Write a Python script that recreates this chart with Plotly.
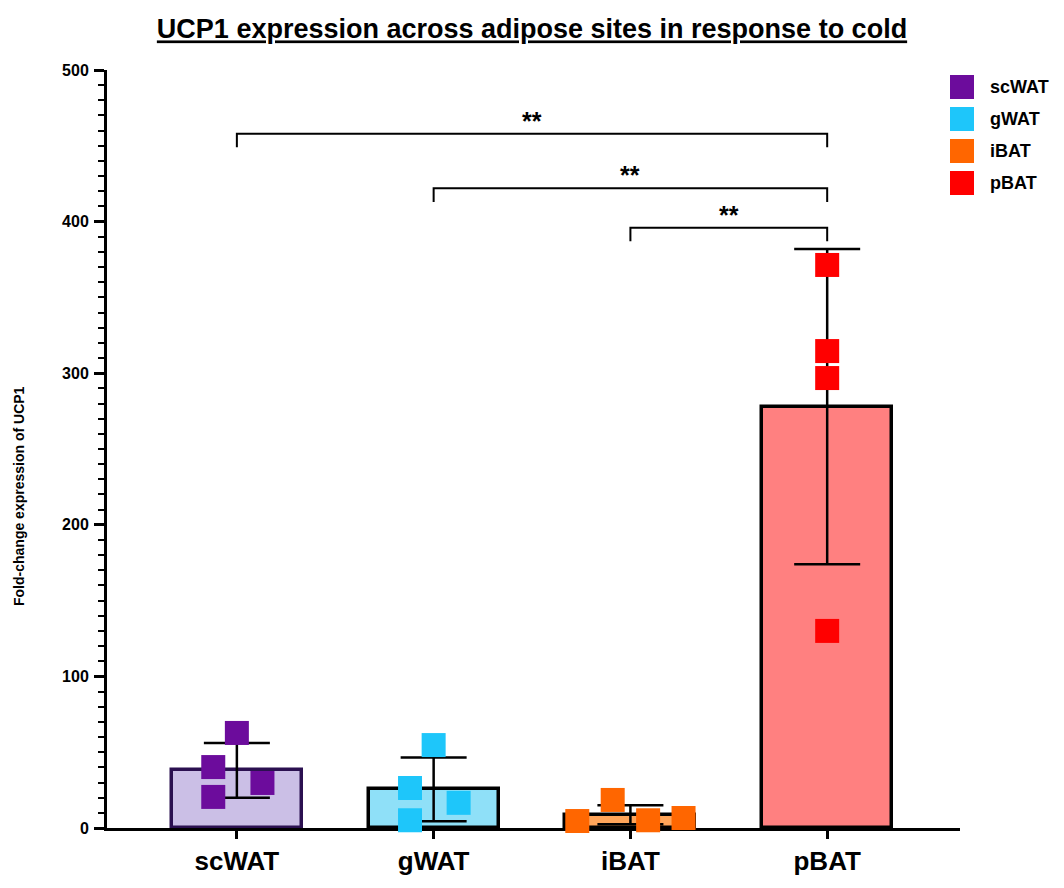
import plotly.graph_objects as go

# ---------------- data ----------------
categories = ["scWAT", "gWAT", "iBAT", "pBAT"]
bar_means = [38.0, 25.5, 8.7, 278.0]
bar_sd = [18.0, 21.0, 6.3, 104.0]

scwat_points = [62.7, 40.2, 20.5, 29.7]
gwat_points = [54.7, 26.4, 5.1, 16.6]
ibat_points = [18.5, 4.6, 5.1, 6.6]
pbat_points = [371.4, 314.6, 296.8, 130.0]

scwat_jitter = [0.0, -0.12, -0.12, 0.13]
gwat_jitter = [0.0, -0.12, -0.12, 0.127]
ibat_jitter = [-0.09, -0.27, 0.09, 0.27]
pbat_jitter = [0.0, 0.0, 0.0, 0.0]

# significance comparisons: (left group, right group, label)
comparisons = [(0, 3, "**"), (1, 3, "**"), (2, 3, "**")]
bracket_y = [458, 422, 396]
bracket_drop = 9

# ---------------- styles ----------------
marker_colors = ["#6c0c9c", "#1ec6fa", "#ff6600", "#ff0000"]
bar_fills = ["#cbbfe6", "#8fe0f8", "#ffa55a", "#ff8080"]
bar_edges = ["#2b1050", "#000000", "#000000", "#000000"]

FIG_W, FIG_H = 1064, 888
M_L, M_R, M_T, M_B = 107, 104, 70, 60
PW = FIG_W - M_L - M_R
PH = FIG_H - M_T - M_B

fig = go.Figure()
x_pos = list(range(len(categories)))

fig.add_trace(go.Bar(
    x=x_pos, y=bar_means, width=0.66,
    marker=dict(color=bar_fills, line=dict(color=bar_edges, width=3.5)),
    error_y=dict(type="data", array=bar_sd, visible=True, color="black",
                 thickness=2.5, width=33),
    showlegend=False, hoverinfo="skip",
))

all_points = [scwat_points, gwat_points, ibat_points, pbat_points]
all_jitter = [scwat_jitter, gwat_jitter, ibat_jitter, pbat_jitter]
for i, (name, pts, jit) in enumerate(zip(categories, all_points, all_jitter)):
    fig.add_trace(go.Scatter(
        x=[i + j for j in jit], y=pts, mode="markers", name=name,
        marker=dict(symbol="square", size=24, color=marker_colors[i], line=dict(width=0)),
        cliponaxis=False, showlegend=False,
    ))

# significance brackets
for (a, b, lab), yb in zip(comparisons, bracket_y):
    fig.add_trace(go.Scatter(
        x=[a, a, b, b], y=[yb - bracket_drop, yb, yb, yb - bracket_drop],
        mode="lines", line=dict(color="black", width=2),
        showlegend=False, hoverinfo="skip", cliponaxis=False,
    ))
    fig.add_annotation(x=(a + b) / 2, y=yb - 2, text="<b>" + lab + "</b>",
                       showarrow=False, yanchor="bottom",
                       font=dict(family="Liberation Sans, Arial", size=25, color="black"))

# manual legend (large square swatches)
def px_x(px):
    return (px - M_L) / PW

def px_y(py):
    return (FIG_H - M_B - py) / PH

legend_y0 = 87
legend_step = 32
for i, name in enumerate(categories):
    cy = legend_y0 + i * legend_step
    fig.add_shape(type="rect", xref="paper", yref="paper",
                  x0=px_x(950), x1=px_x(974), y0=px_y(cy + 12), y1=px_y(cy - 12),
                  fillcolor=marker_colors[i], line=dict(width=0))
    fig.add_annotation(xref="paper", yref="paper", x=px_x(988), y=px_y(cy),
                       xanchor="left", yanchor="middle", showarrow=False,
                       text="<b>" + name + "</b>",
                       font=dict(family="Liberation Sans, Arial", size=18, color="black"))

# y-axis title placed as a rotated annotation
fig.add_annotation(xref="paper", yref="paper", x=px_x(19), y=px_y(496),
                   xanchor="center", yanchor="middle", showarrow=False, textangle=-90,
                   text="<b>Fold-change expression of UCP1</b>",
                   font=dict(family="Liberation Sans, Arial", size=14, color="black"))

fig.update_layout(
    width=FIG_W, height=FIG_H,
    margin=dict(l=M_L, r=M_R, t=M_T, b=M_B),
    paper_bgcolor="white", plot_bgcolor="white",
    title=dict(
        text="<u>UCP1 expression across adipose sites in response to cold</u>",
        x=0.5, xanchor="center", y=1 - 29 / FIG_H, yanchor="middle",
        font=dict(family="Liberation Sans, Arial", size=27,
                  color="black", weight="bold"),
    ),
    bargap=0,
)

fig.update_xaxes(
    range=[-0.66, 3.675], tickmode="array", tickvals=x_pos, ticktext=categories,
    showline=True, linewidth=3, linecolor="black", mirror=False,
    ticks="outside", ticklen=8, tickwidth=3, tickcolor="black",
    tickfont=dict(family="Liberation Sans, Arial", size=26, color="black", weight="bold"),
    showgrid=False, zeroline=False, layer="below traces",
)
fig.update_yaxes(
    range=[0, 500], tickmode="linear", tick0=0, dtick=100,
    showline=True, linewidth=3, linecolor="black",
    ticks="outside", ticklen=10, tickwidth=3, tickcolor="black",
    minor=dict(dtick=10, ticklen=6, tickwidth=2, tickcolor="black", ticks="outside", showgrid=False),
    tickfont=dict(family="Liberation Sans, Arial", size=16, color="black", weight="bold"),
    ticklabelstandoff=2,
    showgrid=False, zeroline=False, layer="below traces",
)

fig.write_html("out.html", config={"displayModeBar": False},
               post_script="document.body.style.margin='0';")
